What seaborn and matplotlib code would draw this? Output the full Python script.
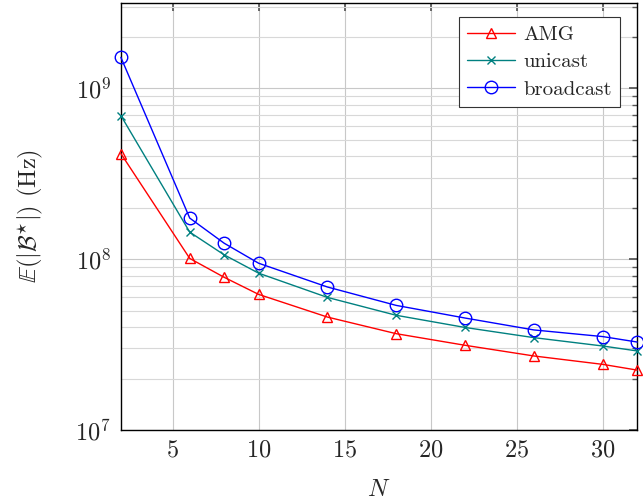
import numpy as np
import pandas as pd
import matplotlib
matplotlib.use("Agg")
import matplotlib.pyplot as plt
import seaborn as sns
from matplotlib.ticker import LogLocator, NullFormatter

# Number of nodes
N = [2, 6, 8, 10, 14, 18, 22, 26, 30, 32]

# Expected bandwidth (Hz) per scheme
amg = [4.15e8, 1.01e8, 7.83e7, 6.22e7, 4.58e7, 3.66e7, 3.13e7, 2.71e7, 2.42e7, 2.24e7]
unicast = [6.93e8, 1.44e8, 1.06e8, 8.28e7, 5.97e7, 4.69e7, 3.98e7, 3.47e7, 3.10e7, 2.90e7]
broadcast = [1.52e9, 1.74e8, 1.24e8, 9.47e7, 6.87e7, 5.36e7, 4.52e7, 3.85e7, 3.52e7, 3.27e7]

series_names = ["AMG", "unicast", "broadcast"]
series_vals = [amg, unicast, broadcast]
colors = ["#ff0000", "#008080", "#0000ff"]
markers = ["^", "x", "o"]
msizes = [7, 6, 9]

sns.set_theme(style="white")
plt.rcParams["font.family"] = ["cmr10", "DejaVu Serif"]
plt.rcParams["mathtext.fontset"] = "cm"
plt.rcParams["axes.formatter.use_mathtext"] = True
plt.rcParams["axes.unicode_minus"] = False

fig = plt.figure(figsize=(6.43, 5.04), dpi=100)
ax = fig.add_axes([0.188, 0.147, 0.803, 0.847])

rows = []
for name, vals in zip(series_names, series_vals):
    for n, v in zip(N, vals):
        rows.append({"N": n, "value": v, "scheme": name})
df = pd.DataFrame(rows)

for name, c, m, ms in zip(series_names, colors, markers, msizes):
    sub = df[df["scheme"] == name]
    sns.lineplot(data=sub, x="N", y="value", ax=ax, color=c, marker=m,
                 markersize=ms, markerfacecolor="none", markeredgecolor=c,
                 markeredgewidth=1.0, linewidth=1.0, label=name, clip_on=False,
                 zorder=3)

ax.set_yscale("log")
ax.set_xlim(2, 32)
ax.set_ylim(1e7, 10 ** 9.5)
ax.set_xticks([5, 10, 15, 20, 25, 30])
ax.yaxis.set_major_locator(LogLocator(base=10, numticks=10))
ax.yaxis.set_minor_locator(LogLocator(base=10, subs=np.arange(2, 10), numticks=20))
ax.yaxis.set_minor_formatter(NullFormatter())

ax.grid(True, which="major", color="#c8c8c8", linewidth=0.8)
ax.grid(True, which="minor", axis="y", color="#d8d8d8", linewidth=0.8)
ax.set_axisbelow(True)

ax.tick_params(which="both", direction="in", top=True, right=True,
               labelsize=17.5, color="#555555")
ax.tick_params(axis="x", which="major", pad=7)
ax.tick_params(axis="y", which="major", pad=7)
ax.tick_params(which="major", length=6)
ax.tick_params(which="minor", length=3.5)
for s in ax.spines.values():
    s.set_color("black")
    s.set_linewidth(1.0)

ax.set_xlabel("$N$", fontsize=17.5, labelpad=12)
ax.set_ylabel(r"$\mathbb{E}(|\mathcal{B}^{\star}|)$ (Hz)", fontsize=17.5, labelpad=22)

leg = ax.legend(loc="upper right", bbox_to_anchor=(0.967, 0.967), borderaxespad=0,
                fontsize=15, frameon=True, fancybox=False, edgecolor="#333333",
                framealpha=1, handlelength=2.3, handletextpad=0.4,
                borderpad=0.4, labelspacing=0.42)
leg.get_frame().set_linewidth(0.8)

fig.savefig("out.png", dpi=100)
